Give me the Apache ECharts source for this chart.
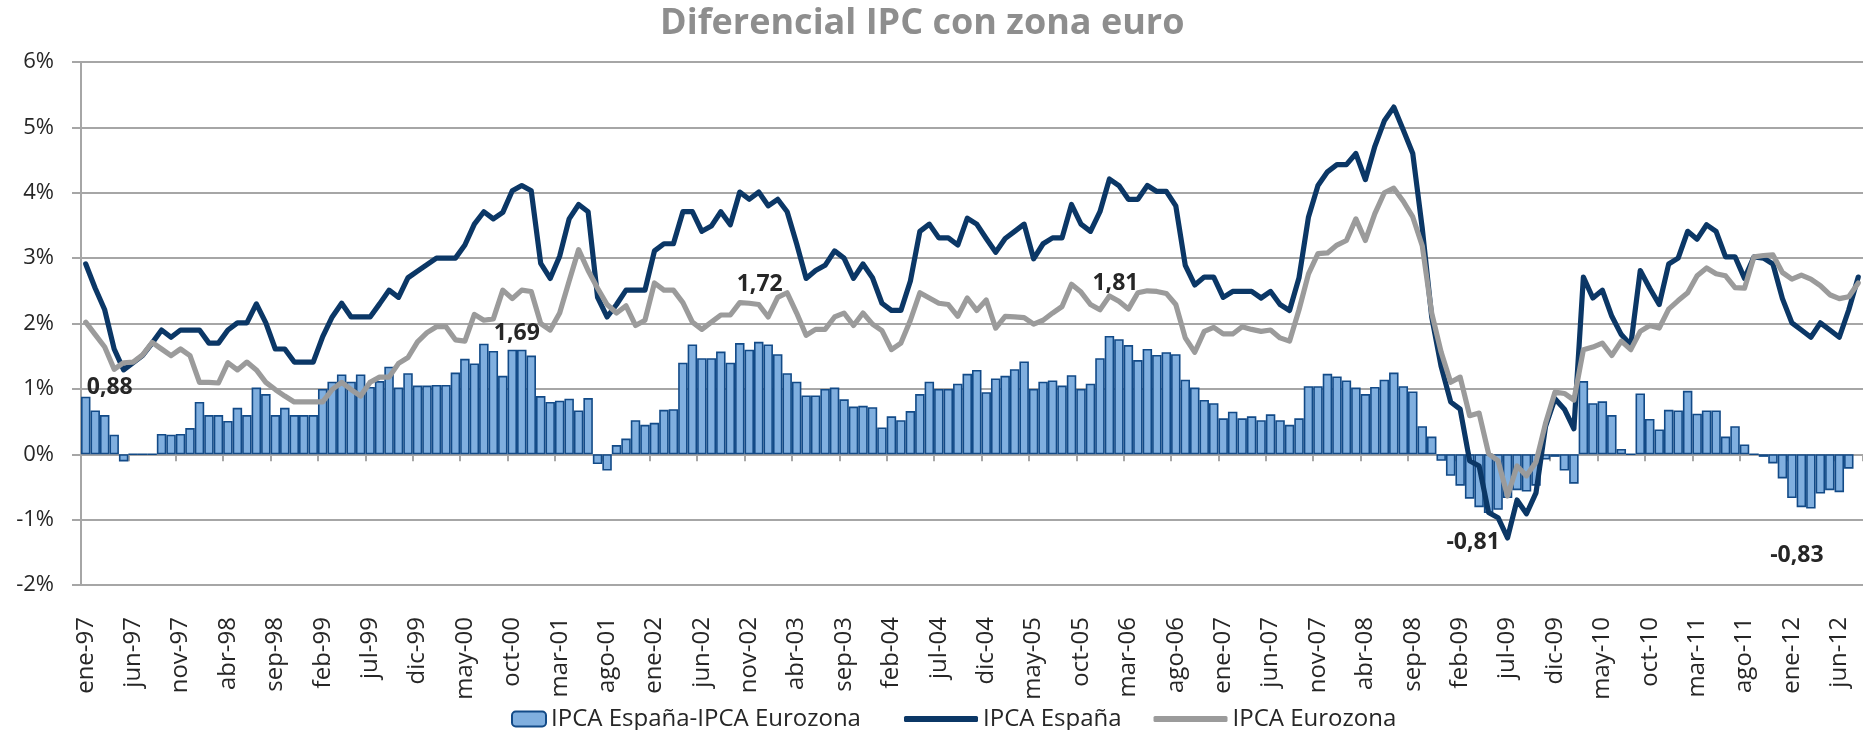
<!DOCTYPE html>
<html>
<head>
<meta charset="utf-8">
<title>Diferencial IPC con zona euro</title>
<script src="https://cdn.jsdelivr.net/npm/echarts@6/dist/echarts.min.js"></script>
<style>
  html, body { margin: 0; padding: 0; background: #ffffff; }
  #chart { width: 1863px; height: 730px; }
</style>
</head>
<body>
<div id="chart"></div>
<script>
// ene-97 .. ago-12, one category per month
var MONTHS = ["ene", "feb", "mar", "abr", "may", "jun", "jul", "ago", "sep", "oct", "nov", "dic"];
var YEARS = ["97", "98", "99", "00", "01", "02", "03", "04", "05", "06", "07", "08", "09", "10", "11", "12"];
var categories = [];
YEARS.forEach(function (y) {
  MONTHS.forEach(function (m) {
    if (categories.length < 188) categories.push(m + "-" + y);
  });
});

var yTicks = [-2, -1, 0, 1, 2, 3, 4, 5, 6];

// IPCA España - IPCA Eurozona (bars)
var diferencial = [
  0.88, 0.67, 0.60, 0.30, -0.11, 0, 0, 0, 0.31, 0.30, 0.31, 0.40,
  0.80, 0.60, 0.60, 0.51, 0.71, 0.60, 1.02, 0.92, 0.60, 0.71, 0.60, 0.60,
  0.60, 1.00, 1.11, 1.22, 1.11, 1.22, 1.03, 1.12, 1.34, 1.02, 1.24, 1.05,
  1.05, 1.06, 1.06, 1.25, 1.46, 1.39, 1.69, 1.58, 1.20, 1.60, 1.60, 1.51,
  0.89, 0.80, 0.82, 0.85, 0.67, 0.86, -0.15, -0.25, 0.14, 0.24, 0.52, 0.45,
  0.48, 0.68, 0.69, 1.40, 1.68, 1.47, 1.47, 1.57, 1.40, 1.70, 1.60, 1.72,
  1.68, 1.53, 1.24, 1.11, 0.90, 0.90, 1.00, 1.02, 0.84, 0.73, 0.74, 0.72,
  0.41, 0.58, 0.52, 0.66, 0.92, 1.11, 1.00, 1.00, 1.08, 1.23, 1.29, 0.95,
  1.16, 1.20, 1.30, 1.42, 1.00, 1.11, 1.13, 1.05, 1.21, 1.00, 1.08, 1.47,
  1.81, 1.76, 1.67, 1.44, 1.61, 1.52, 1.56, 1.53, 1.14, 1.02, 0.83, 0.78,
  0.55, 0.65, 0.55, 0.58, 0.52, 0.61, 0.52, 0.45, 0.55, 1.04, 1.04, 1.23,
  1.19, 1.13, 1.02, 0.92, 1.03, 1.14, 1.25, 1.04, 0.96, 0.43, 0.27, -0.10,
  -0.33, -0.48, -0.68, -0.81, -0.90, -0.85, -0.67, -0.55, -0.57, -0.48, -0.08, -0.04,
  -0.25, -0.45, 1.12, 0.78, 0.81, 0.60, 0.08, 0, 0.93, 0.54, 0.38, 0.68,
  0.67, 0.97, 0.62, 0.67, 0.67, 0.27, 0.43, 0.15, 0, -0.04, -0.14, -0.37,
  -0.67, -0.81, -0.83, -0.60, -0.55, -0.58, -0.22, null
];

var ipcaEspana = [
  2.91, 2.54, 2.21, 1.61, 1.29, 1.40, 1.51, 1.70, 1.90, 1.79, 1.90, 1.90,
  1.90, 1.70, 1.70, 1.90, 2.01, 2.01, 2.30, 2.01, 1.61, 1.61, 1.41, 1.41,
  1.41, 1.80, 2.10, 2.31, 2.10, 2.10, 2.10, 2.30, 2.51, 2.40, 2.70, 2.80,
  2.90, 3.00, 3.00, 3.00, 3.20, 3.52, 3.71, 3.60, 3.70, 4.03, 4.11, 4.03,
  2.92, 2.69, 3.03, 3.60, 3.82, 3.71, 2.40, 2.10, 2.29, 2.51, 2.51, 2.51,
  3.11, 3.22, 3.22, 3.71, 3.71, 3.41, 3.49, 3.71, 3.51, 4.01, 3.90, 4.01,
  3.80, 3.90, 3.71, 3.22, 2.69, 2.81, 2.89, 3.11, 3.00, 2.69, 2.91, 2.70,
  2.31, 2.20, 2.20, 2.65, 3.41, 3.52, 3.31, 3.31, 3.20, 3.61, 3.52, 3.30,
  3.09, 3.30, 3.41, 3.52, 2.99, 3.22, 3.31, 3.31, 3.82, 3.52, 3.41, 3.71,
  4.21, 4.11, 3.90, 3.90, 4.11, 4.02, 4.02, 3.80, 2.89, 2.59, 2.71, 2.71,
  2.40, 2.49, 2.49, 2.49, 2.39, 2.49, 2.29, 2.20, 2.70, 3.63, 4.11, 4.32,
  4.43, 4.43, 4.60, 4.20, 4.71, 5.10, 5.31, 4.96, 4.60, 3.46, 2.10, 1.34,
  0.80, 0.69, -0.10, -0.18, -0.89, -0.97, -1.28, -0.70, -0.91, -0.59, 0.42, 0.85,
  0.69, 0.39, 2.71, 2.39, 2.51, 2.11, 1.83, 1.67, 2.81, 2.54, 2.29, 2.91,
  3.00, 3.41, 3.29, 3.51, 3.41, 3.02, 3.02, 2.69, 3.02, 3.00, 2.91, 2.38,
  2.01, 1.90, 1.79, 2.01, 1.90, 1.79, 2.21, 2.71
];

var ipcaEurozona = [
  2.02, 1.83, 1.64, 1.30, 1.40, 1.41, 1.52, 1.71, 1.61, 1.51, 1.61, 1.51,
  1.10, 1.10, 1.09, 1.40, 1.29, 1.41, 1.29, 1.10, 0.99, 0.89, 0.80, 0.80,
  0.80, 0.80, 0.99, 1.10, 0.99, 0.89, 1.10, 1.18, 1.18, 1.39, 1.48, 1.72,
  1.86, 1.95, 1.95, 1.75, 1.73, 2.14, 2.05, 2.07, 2.51, 2.38, 2.51, 2.49,
  2.00, 1.90, 2.16, 2.65, 3.13, 2.81, 2.54, 2.29, 2.16, 2.27, 1.97, 2.05,
  2.62, 2.51, 2.51, 2.32, 2.02, 1.91, 2.02, 2.13, 2.13, 2.32, 2.31, 2.29,
  2.10, 2.40, 2.47, 2.16, 1.82, 1.91, 1.91, 2.10, 2.16, 1.97, 2.16, 1.99,
  1.89, 1.60, 1.70, 2.05, 2.47, 2.39, 2.31, 2.29, 2.11, 2.39, 2.20, 2.36,
  1.93, 2.11, 2.10, 2.09, 1.99, 2.05, 2.16, 2.26, 2.60, 2.48, 2.29, 2.21,
  2.42, 2.34, 2.22, 2.47, 2.50, 2.49, 2.46, 2.29, 1.78, 1.56, 1.88, 1.94,
  1.84, 1.84, 1.95, 1.91, 1.88, 1.90, 1.78, 1.73, 2.21, 2.76, 3.07, 3.08,
  3.20, 3.27, 3.60, 3.27, 3.68, 4.00, 4.07, 3.87, 3.63, 3.19, 2.16, 1.56,
  1.10, 1.18, 0.59, 0.63, 0.01, -0.10, -0.64, -0.18, -0.33, -0.12, 0.47, 0.95,
  0.93, 0.83, 1.60, 1.64, 1.70, 1.51, 1.73, 1.60, 1.88, 1.97, 1.93, 2.22,
  2.35, 2.47, 2.73, 2.85, 2.76, 2.73, 2.55, 2.54, 3.02, 3.04, 3.05, 2.78,
  2.68, 2.74, 2.68, 2.58, 2.44, 2.38, 2.41, 2.62
];

// bars whose value is written on the chart, with where the text sits
var etiquetas = {
  0: [24, -38],
  42: [33, -66],
  71: [1, -114],
  108: [6, -112],
  147: [-6, 62],
  182: [-14, 74]
};

var FONT = "Open Sans";
var TEXT = "#262626";
var GRID = "#a6a6a6";
var AZUL = "#0b3766";
var GRIS = "#9b9b9b";

var barData = diferencial.map(function (v, i) {
  if (etiquetas[i] === undefined) return v;
  return {
    value: v,
    label: {
      show: true,
      position: "inside",
      offset: etiquetas[i],
      formatter: function (p) {
        return p.value.toFixed(2).replace(".", ",");
      },
      fontFamily: FONT,
      fontWeight: "bold",
      fontSize: 23,
      color: TEXT,
      textBorderWidth: 0
    }
  };
});

var chart = echarts.init(document.getElementById("chart"), null, { renderer: "canvas" });

var option = {
  animation: false,
  backgroundColor: "#ffffff",
  title: {
    text: "Diferencial IPC con zona euro",
    left: 655,
    top: 1,
    textStyle: { fontFamily: FONT, fontWeight: "bold", fontSize: 36, color: "#8e8e8e" }
  },
  legend: [
    {
      data: ["IPCA España-IPCA Eurozona"],
      left: 506,
      top: 702,
      itemWidth: 34,
      itemHeight: 15,
      textStyle: { fontFamily: FONT, fontSize: 24, color: TEXT }
    },
    {
      data: [
        { name: "IPCA España", icon: "roundRect", itemStyle: { color: AZUL } },
        { name: "IPCA Eurozona", icon: "roundRect", itemStyle: { color: GRIS } }
      ],
      left: 899,
      top: 702,
      itemWidth: 74,
      itemHeight: 6,
      itemGap: 32,
      textStyle: { fontFamily: FONT, fontSize: 24, color: TEXT }
    }
  ],
  grid: { left: 81, right: 0, top: 62, bottom: 145 },
  xAxis: [
    {
      type: "category",
      data: categories,
      boundaryGap: true,
      axisLine: { show: false, onZero: false },
      axisTick: { show: false },
      axisLabel: {
        interval: 4,
        rotate: 90,
        margin: 32,
        fontFamily: FONT,
        fontSize: 24,
        color: TEXT
      }
    },
    {
      // zero line with its tick marks
      type: "category",
      data: categories,
      position: "bottom",
      boundaryGap: true,
      axisLine: { show: true, onZero: true, lineStyle: { color: GRID, width: 2 } },
      axisTick: { show: true, interval: 4, length: 7, lineStyle: { color: GRID, width: 2 } },
      axisLabel: { show: false }
    }
  ],
  yAxis: {
    type: "value",
    min: yTicks[0],
    max: yTicks[yTicks.length - 1],
    interval: 1,
    axisLine: { show: true, lineStyle: { color: GRID, width: 2 } },
    axisTick: { show: true, length: 9, lineStyle: { color: GRID, width: 2 } },
    splitLine: { show: true, lineStyle: { color: GRID, width: 2 } },
    axisLabel: {
      margin: 27,
      formatter: "{value}%",
      fontFamily: FONT,
      fontSize: 22,
      color: TEXT
    }
  },
  series: [
    {
      name: "IPCA España-IPCA Eurozona",
      type: "bar",
      data: barData,
      barCategoryGap: "0%",
      itemStyle: { color: "#80afdf", borderColor: "#124a87", borderWidth: 1.6 }
    },
    {
      name: "IPCA España",
      type: "line",
      data: ipcaEspana,
      symbol: "none",
      lineStyle: { color: AZUL, width: 5.2, cap: "round", join: "round" },
      itemStyle: { color: AZUL }
    },
    {
      name: "IPCA Eurozona",
      type: "line",
      data: ipcaEurozona,
      symbol: "none",
      lineStyle: { color: GRIS, width: 5.2, cap: "round", join: "round" },
      itemStyle: { color: GRIS }
    }
  ]
};

chart.setOption(option);
</script>
</body>
</html>
